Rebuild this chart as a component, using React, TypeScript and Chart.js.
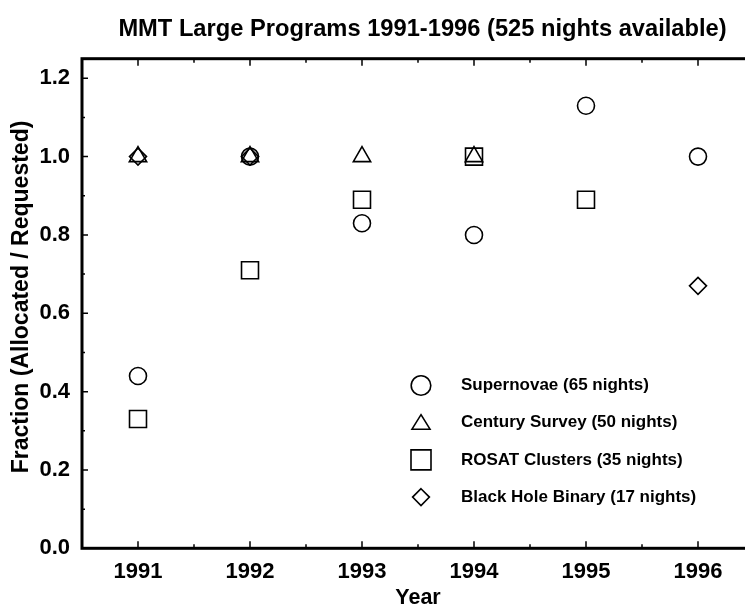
import React, { useEffect, useRef } from "react";
import { Chart, registerables } from "chart.js";

Chart.register(...registerables);

const TITLE = "MMT Large Programs 1991-1996 (525 nights available)";
const X_TITLE = "Year";
const Y_TITLE = "Fraction (Allocated / Requested)";

const YEARS = [1991, 1992, 1993, 1994, 1995, 1996];
const Y_TICKS = [0, 0.2, 0.4, 0.6, 0.8, 1.0, 1.2];

const SERIES_NAMES = [
  "Supernovae (65 nights)",
  "Century Survey (50 nights)",
  "ROSAT Clusters (35 nights)",
  "Black Hole Binary (17 nights)",
];

const SUPERNOVAE_YEARS = [1991, 1992, 1993, 1994, 1995, 1996];
const SUPERNOVAE = [0.44, 1.0, 0.83, 0.8, 1.13, 1.0];

const CENTURY_YEARS = [1991, 1992, 1993, 1994];
const CENTURY = [1.0, 1.0, 1.0, 1.0];

const ROSAT_YEARS = [1991, 1992, 1993, 1994, 1995];
const ROSAT = [0.33, 0.71, 0.89, 1.0, 0.89];

const BHB_YEARS = [1991, 1992, 1996];
const BHB = [1.0, 1.0, 0.67];

const FONT = '"Liberation Sans", Arial, Helvetica, sans-serif';

const pts = (xs: number[], ys: number[]) => xs.map((x, i) => ({ x, y: ys[i] }));

function drawMarker(ctx: CanvasRenderingContext2D, style: string, cx: number, cy: number, s: number) {
  ctx.beginPath();
  if (style === "circle") {
    ctx.arc(cx, cy, s, 0, Math.PI * 2);
  } else if (style === "triangle") {
    ctx.moveTo(cx, cy - s * 0.8);
    ctx.lineTo(cx + s * 0.9, cy + s * 0.65);
    ctx.lineTo(cx - s * 0.9, cy + s * 0.65);
    ctx.closePath();
  } else if (style === "rect") {
    ctx.rect(cx - s, cy - s, 2 * s, 2 * s);
  } else {
    ctx.moveTo(cx, cy - s);
    ctx.lineTo(cx + s, cy);
    ctx.lineTo(cx, cy + s);
    ctx.lineTo(cx - s, cy);
    ctx.closePath();
  }
  ctx.stroke();
}

const framePlugin = {
  id: "frame",
  afterDraw(chart: any) {
    const { ctx, chartArea: a, scales } = chart;
    const x = scales.x;
    const y = scales.y;
    ctx.save();
    ctx.strokeStyle = "#000";
    ctx.lineWidth = 3;
    ctx.strokeRect(a.left, a.top, a.right - a.left, a.bottom - a.top);
    ctx.lineWidth = 1.5;
    ctx.beginPath();
    const yv = y.ticks.map((t: any) => t.value);
    yv.forEach((v: number, i: number) => {
      const p = y.getPixelForValue(v);
      ctx.moveTo(a.left, p);
      ctx.lineTo(a.left + 6, p);
      if (i < yv.length - 1) {
        const m = y.getPixelForValue((v + yv[i + 1]) / 2);
        ctx.moveTo(a.left, m);
        ctx.lineTo(a.left + 3, m);
      }
    });
    const xv = x.ticks.map((t: any) => t.value);
    xv.forEach((v: number, i: number) => {
      const p = x.getPixelForValue(v);
      ctx.moveTo(p, a.bottom);
      ctx.lineTo(p, a.bottom - 7);
      ctx.moveTo(p, a.top);
      ctx.lineTo(p, a.top + 7);
      if (i < xv.length - 1) {
        const m = x.getPixelForValue((v + xv[i + 1]) / 2);
        ctx.moveTo(m, a.bottom);
        ctx.lineTo(m, a.bottom - 4);
        ctx.moveTo(m, a.top);
        ctx.lineTo(m, a.top + 4);
      }
    });
    ctx.stroke();
    ctx.restore();
  },
};

const textPlugin = {
  id: "customTexts",
  afterDraw(chart: any) {
    const { ctx } = chart;
    ctx.save();
    ctx.fillStyle = "#000";
    ctx.font = `bold 23.7px ${FONT}`;
    ctx.textAlign = "center";
    ctx.textBaseline = "middle";
    ctx.fillText(TITLE, 422.5, 29);
    ctx.translate(22, 297);
    ctx.rotate(-Math.PI / 2);
    ctx.font = `bold 23px ${FONT}`;
    ctx.fillText(Y_TITLE, 0, 0);
    ctx.restore();
  },
};

const LEGEND_SIZES: Record<string, number> = { circle: 9.8, triangle: 10, rect: 10, rectRot: 8.4 };

const legendPlugin = {
  id: "customLegend",
  afterDraw(chart: any) {
    const { ctx } = chart;
    ctx.save();
    ctx.strokeStyle = "#000";
    ctx.lineWidth = 1.6;
    ctx.fillStyle = "#000";
    ctx.font = `bold 17px ${FONT}`;
    ctx.textAlign = "left";
    ctx.textBaseline = "middle";
    chart.data.datasets.forEach((ds: any, i: number) => {
      const cy = 385.5 + i * 37.2;
      drawMarker(ctx, ds.pointStyle, 421, cy, LEGEND_SIZES[ds.pointStyle]);
      ctx.fillText(ds.label, 461, cy);
    });
    ctx.restore();
  },
};

function makeDataset(label: string, xs: number[], ys: number[], style: string, radius: number) {
  return {
    label,
    data: pts(xs, ys),
    pointStyle: style,
    pointRadius: radius,
    pointHoverRadius: radius,
    pointBorderWidth: 1.6,
    pointHoverBorderWidth: 1.6,
    pointBorderColor: "#000",
    pointBackgroundColor: "rgba(0,0,0,0)",
    borderColor: "#000",
    backgroundColor: "rgba(0,0,0,0)",
    showLine: false,
  };
}

export default function App() {
  const ref = useRef<HTMLCanvasElement>(null);
  useEffect(() => {
    if (!ref.current) return;
    Chart.defaults.font.family = FONT;
    const chart = new Chart(ref.current, {
      type: "scatter",
      data: {
        datasets: [
          makeDataset(SERIES_NAMES[0], SUPERNOVAE_YEARS, SUPERNOVAE, "circle", 8.5),
          makeDataset(SERIES_NAMES[1], CENTURY_YEARS, CENTURY, "triangle", 10),
          makeDataset(SERIES_NAMES[2], ROSAT_YEARS, ROSAT, "rect", 12),
          makeDataset(SERIES_NAMES[3], BHB_YEARS, BHB, "rectRot", 8.5),
        ] as any,
      },
      options: {
        responsive: false,
        animation: false,
        devicePixelRatio: 1,
        events: [],
        layout: { padding: { top: 58.7, right: 46, left: 0, bottom: 0 } },
        plugins: {
          legend: { display: false },
          title: { display: false },
          tooltip: { enabled: false },
        },
        scales: {
          x: {
            type: "linear",
            position: "bottom",
            min: 1990.5,
            max: 1996.5,
            grid: { display: false, drawTicks: false },
            border: { display: false },
            afterBuildTicks: (s: any) => {
              s.ticks = YEARS.map((v) => ({ value: v }));
            },
            afterFit: (s: any) => {
              s.height = 612 - 548.3;
            },
            ticks: {
              autoSkip: false,
              maxRotation: 0,
              padding: 10.5,
              color: "#000",
              font: { size: 22, weight: "bold" },
              callback: (v: any) => String(v),
            },
            title: {
              display: true,
              text: X_TITLE,
              color: "#000",
              font: { size: 21.5, weight: "bold" },
              padding: { top: 0, bottom: 1 },
            },
          },
          y: {
            type: "linear",
            position: "left",
            min: 0,
            max: 1.25,
            grid: { display: false, drawTicks: false },
            border: { display: false },
            afterBuildTicks: (s: any) => {
              s.ticks = Y_TICKS.map((v) => ({ value: v }));
            },
            afterFit: (s: any) => {
              s.width = 82;
            },
            ticks: {
              padding: 12,
              color: "#000",
              font: { size: 22, weight: "bold" },
              callback: (v: any) => Number(v).toFixed(1),
            },
          },
        },
      } as any,
      plugins: [framePlugin, textPlugin, legendPlugin],
    });
    return () => chart.destroy();
  }, []);
  return (
    <div
      style={{
        position: "absolute",
        left: 0,
        top: 0,
        width: 745,
        height: 612,
        overflow: "hidden",
        background: "#fff",
      }}
    >
      <canvas ref={ref} width={800} height={612} style={{ display: "block", width: 800, height: 612 }} />
    </div>
  );
}
